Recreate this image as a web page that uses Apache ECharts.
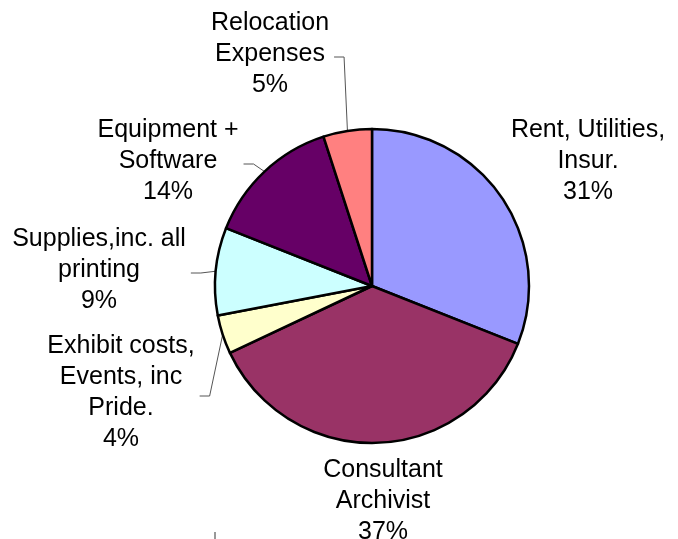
<!DOCTYPE html>
<html>
<head>
<meta charset="utf-8">
<script src="https://cdn.jsdelivr.net/npm/echarts@6/dist/echarts.min.js"></script>
<style>
  html, body { margin: 0; padding: 0; background: #fff; }
  #chart { width: 678px; height: 539px; }
</style>
</head>
<body>
<div id="chart"></div>
<script>
// slices, clockwise from 12 o'clock
var categories = [
  'Rent, Utilities,\nInsur.',
  'Consultant\nArchivist',
  'Exhibit costs,\nEvents, inc\nPride.',
  'Supplies,inc. all\nprinting',
  'Equipment +\nSoftware',
  'Relocation\nExpenses'
];
var shares = [31, 37, 4, 9, 14, 5];

// excel 97 palette
var sliceColors = ['#9999FF', '#993366', '#FFFFCC', '#CCFFFF', '#660066', '#FF8080'];

// label block centres, and which ones get a leader line
var labelPos = [[588, 161], [383, 501], [121, 393], [99, 270], [168, 161], [270, 54]];
var hasLeader = [false, false, true, true, true, true];

var chart = echarts.init(document.getElementById('chart'), null, { renderer: 'canvas' });

var pieData = categories.map(function (name, i) {
  return {
    name: name,
    value: shares[i],
    itemStyle: { color: sliceColors[i] },
    labelLine: { show: hasLeader[i] }
  };
});

chart.setOption({
  backgroundColor: '#ffffff',
  animation: false,
  series: [
    {
      type: 'pie',
      center: [372, 286],
      radius: 157,
      startAngle: 90,
      clockwise: true,
      avoidLabelOverlap: false,
      itemStyle: {
        borderColor: '#000',
        borderWidth: 2.5
      },
      label: {
        show: true,
        position: 'outside',
        formatter: '{b}\n{c}%',
        fontFamily: 'Liberation Sans, Arial, sans-serif',
        fontSize: 25,
        lineHeight: 31,
        color: '#000',
        align: 'center'
      },
      labelLine: {
        show: true,
        lineStyle: { color: '#555', width: 1 }
      },
      emphasis: { disabled: true },
      labelLayout: function (p) {
        var pos = labelPos[p.dataIndex];
        var res = { x: pos[0], y: pos[1], align: 'center', verticalAlign: 'middle' };
        if (hasLeader[p.dataIndex] && p.labelLinePoints) {
          var edge = p.labelLinePoints[0];
          var sx = pos[0] + p.labelRect.width / 2 + 5;
          var ly = pos[1] + 3;
          res.labelLinePoints = [edge, [sx + 10, ly], [sx, ly]];
        }
        return res;
      },
      data: pieData
    }
  ],
  graphic: [
    {
      type: 'line',
      shape: { x1: 215, y1: 532, x2: 215, y2: 539 },
      style: { stroke: '#333', lineWidth: 1 }
    }
  ]
});
</script>
</body>
</html>
